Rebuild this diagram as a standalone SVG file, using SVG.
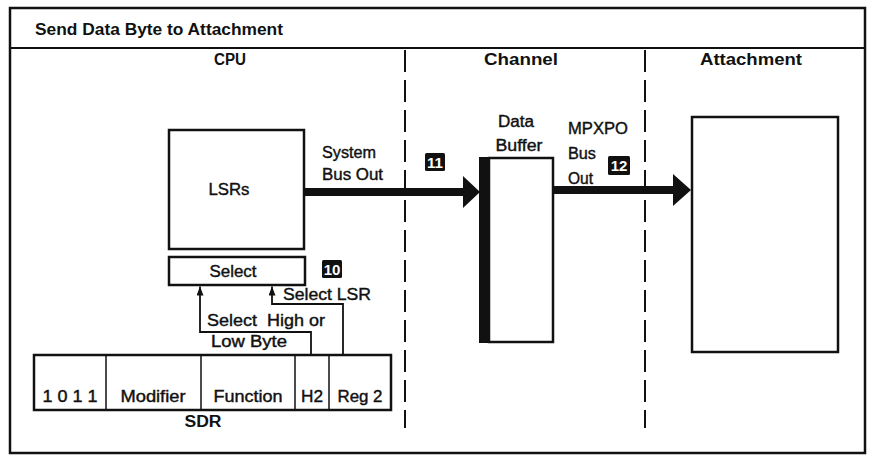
<svg xmlns="http://www.w3.org/2000/svg" width="878" height="458" viewBox="0 0 878 458">
<defs>
<style>
text{font-family:"Liberation Sans",Arial,Helvetica,sans-serif;fill:#111}
.t{font-size:16px;font-weight:bold}
.h{font-size:16px;font-weight:bold}
.l{font-size:16px;stroke:#111;stroke-width:0.4}
.c{text-anchor:middle}
.box{fill:#fff;stroke:#111;stroke-width:2.5}
.dash{stroke:#111;stroke-width:2;stroke-dasharray:22 8;fill:none}
.wire{fill:none;stroke:#111;stroke-width:1.8}
.badge{fill:#111}
.bt{font-size:15px;font-weight:bold;fill:#fff;text-anchor:middle}
.bus{fill:#111}
</style>
<marker id="ah" viewBox="0 0 9 7" refX="9" refY="3.5" markerWidth="9" markerHeight="7" markerUnits="userSpaceOnUse" orient="auto">
<path d="M0,0 L9,3.5 L0,7 Z" fill="#111"/>
</marker>
</defs>
<rect x="0" y="0" width="878" height="458" fill="#fff"/>
<g id="frame">
<rect x="10" y="8" width="855" height="445" fill="none" stroke="#111" stroke-width="2.5"/>
<line x1="10" y1="48" x2="865" y2="48" stroke="#111" stroke-width="2"/>
<text class="t" x="35" y="35" textLength="248" lengthAdjust="spacingAndGlyphs">Send Data Byte to Attachment</text>
<text class="h c" x="230" y="65" textLength="32" lengthAdjust="spacingAndGlyphs">CPU</text>
<text class="h c" x="521" y="65" textLength="74" lengthAdjust="spacingAndGlyphs">Channel</text>
<text class="h c" x="751" y="65" textLength="102" lengthAdjust="spacingAndGlyphs">Attachment</text>
<line class="dash" x1="405" y1="50" x2="405" y2="428"/>
<line class="dash" x1="645" y1="50" x2="645" y2="428"/>
</g>
<g id="lsrs">
<rect class="box" x="169" y="130" width="135" height="119"/>
<text class="l c" x="229" y="195" textLength="41" lengthAdjust="spacingAndGlyphs">LSRs</text>
</g>
<g id="select">
<rect class="box" x="169" y="257" width="136" height="28"/>
<text class="l c" x="233" y="277" textLength="47" lengthAdjust="spacingAndGlyphs">Select</text>
</g>
<g id="badge10">
<rect class="badge" x="322" y="260" width="20" height="18" rx="1.5"/>
<text class="bt" x="332" y="275">10</text>
</g>
<g id="badge11">
<rect class="badge" x="425" y="153" width="20" height="18" rx="1.5"/>
<text class="bt" x="435" y="168">11</text>
</g>
<g id="badge12">
<rect class="badge" x="608" y="156" width="22" height="19" rx="1.5"/>
<text class="bt" x="619" y="171">12</text>
</g>
<g id="databuffer">
<rect class="box" x="489" y="158" width="64" height="184"/>
<rect x="479" y="157" width="11" height="186" fill="#111"/>
<text class="l c" x="516" y="127" textLength="36" lengthAdjust="spacingAndGlyphs">Data</text>
<text class="l c" x="519" y="151" textLength="47" lengthAdjust="spacingAndGlyphs">Buffer</text>
</g>
<g id="attachment">
<rect class="box" x="692" y="117" width="146" height="235"/>
</g>
<g id="sdr">
<rect class="box" x="34" y="355" width="357" height="55"/>
<line x1="106" y1="355" x2="106" y2="410" stroke="#111" stroke-width="1.5"/>
<line x1="201" y1="355" x2="201" y2="410" stroke="#111" stroke-width="1.5"/>
<line x1="295" y1="355" x2="295" y2="410" stroke="#111" stroke-width="1.5"/>
<line x1="329" y1="355" x2="329" y2="410" stroke="#111" stroke-width="1.5"/>
<text class="l c" x="70" y="402" textLength="55" lengthAdjust="spacingAndGlyphs">1 0 1 1</text>
<text class="l c" x="153" y="402" textLength="65" lengthAdjust="spacingAndGlyphs">Modifier</text>
<text class="l c" x="248" y="402" textLength="69" lengthAdjust="spacingAndGlyphs">Function</text>
<text class="l c" x="312" y="402" textLength="22" lengthAdjust="spacingAndGlyphs">H2</text>
<text class="l c" x="360" y="402" textLength="45" lengthAdjust="spacingAndGlyphs">Reg 2</text>
<text class="h c" x="203" y="427" textLength="37" lengthAdjust="spacingAndGlyphs">SDR</text>
</g>
<g id="connectors">
<rect class="bus" x="304" y="188" width="160" height="8"/>
<polygon class="bus" points="463,176 480,192 463,208"/>
<rect class="bus" x="553" y="186" width="121" height="8"/>
<polygon class="bus" points="673,174 691,190 673,206"/>
<path class="wire" d="M311,355 V332 H200 V286.5" marker-end="url(#ah)"/>
<path class="wire" d="M343,355 V304 H272 V286.5" marker-end="url(#ah)"/>
<text class="l" x="322" y="158" textLength="54" lengthAdjust="spacingAndGlyphs">System</text>
<text class="l" x="322" y="180" textLength="61" lengthAdjust="spacingAndGlyphs">Bus Out</text>
<text class="l" x="568" y="134" textLength="60" lengthAdjust="spacingAndGlyphs">MPXPO</text>
<text class="l" x="568" y="159" textLength="28" lengthAdjust="spacingAndGlyphs">Bus</text>
<text class="l" x="568" y="184" textLength="25" lengthAdjust="spacingAndGlyphs">Out</text>
<text class="l" x="283" y="300" textLength="88" lengthAdjust="spacingAndGlyphs">Select LSR</text>
<text class="l" x="207" y="326" textLength="118" lengthAdjust="spacingAndGlyphs" xml:space="preserve">Select  High or</text>
<text class="l" x="211" y="347" textLength="76" lengthAdjust="spacingAndGlyphs">Low Byte</text>
</g>
</svg>
